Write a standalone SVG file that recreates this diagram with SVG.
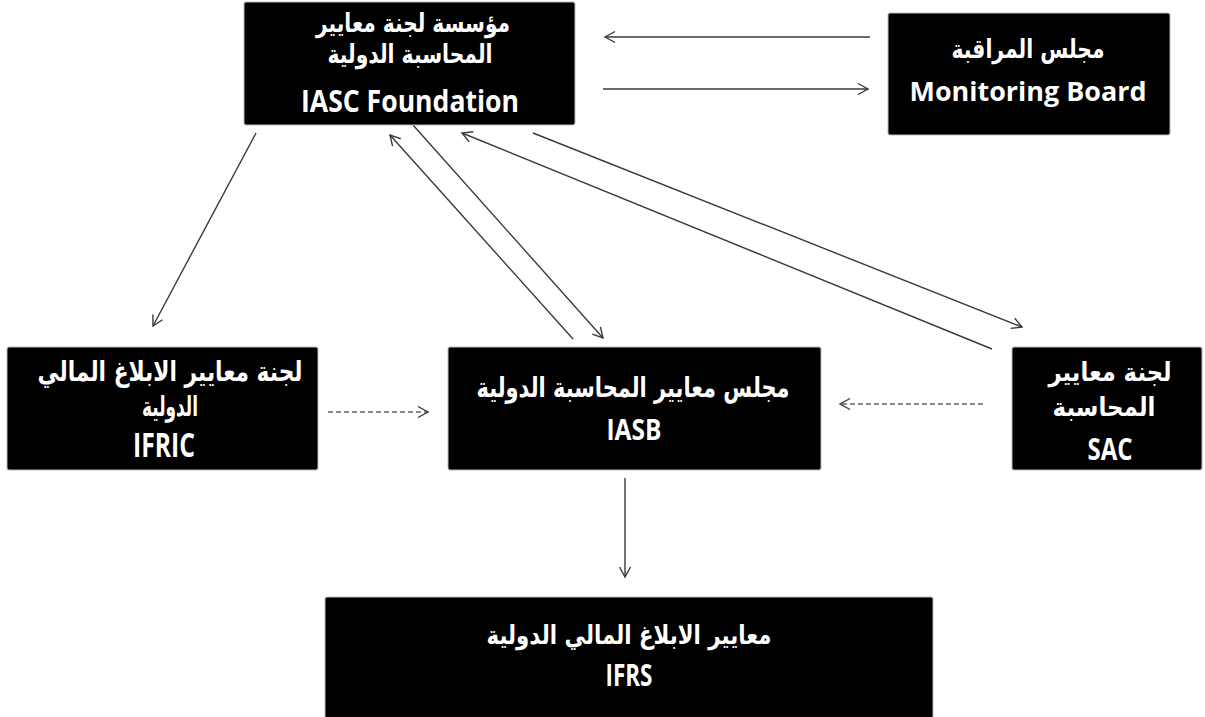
<svg xmlns="http://www.w3.org/2000/svg" width="1205" height="717" viewBox="0 0 1205 717">
<style>
.box{fill:#000;stroke:#bbb;stroke-width:1}
.ar{font-family:"DejaVu Sans",sans-serif;font-weight:bold;fill:#fff;text-anchor:middle}
.en{font-family:"Open Sans","Liberation Sans",sans-serif;font-weight:bold;fill:#fff;text-anchor:middle}
.ln{stroke:#3a3a3a;stroke-width:1.4;fill:none;marker-end:url(#ah)}
.dash{stroke-dasharray:5 3;stroke:#666}
</style>
<defs>
<marker id="ah" markerUnits="userSpaceOnUse" markerWidth="14" markerHeight="14" refX="11" refY="7" orient="auto">
<path d="M1,1.5 L11,7 L1,12.5" fill="none" stroke="#3a3a3a" stroke-width="1.4"/>
</marker>
</defs>
<rect width="1205" height="717" fill="#fff"/>
<g id="connectors">
<line class="ln" x1="870" y1="37" x2="605" y2="37"/>
<line class="ln" x1="603" y1="89" x2="868" y2="89"/>
<line class="ln" x1="256" y1="133" x2="153" y2="326"/>
<line class="ln" x1="573" y1="339" x2="390" y2="135"/>
<line class="ln" x1="413" y1="125" x2="603" y2="338"/>
<line class="ln" x1="992" y1="349" x2="462" y2="133"/>
<line class="ln" x1="533" y1="133" x2="1022" y2="327"/>
<line class="ln dash" x1="328" y1="412" x2="428" y2="412"/>
<line class="ln dash" x1="983" y1="404" x2="840" y2="404"/>
<line class="ln" x1="625" y1="478" x2="625" y2="577"/>
</g>
<g id="iasc">
<rect class="box" x="244" y="2" width="331" height="123" rx="2"/>
<text class="ar" x="413" y="32" font-size="26" textLength="194" lengthAdjust="spacingAndGlyphs">مؤسسة لجنة معايير</text>
<text class="ar" x="410" y="63" font-size="26" textLength="165" lengthAdjust="spacingAndGlyphs">المحاسبة الدولية</text>
<text class="en" x="410" y="112" font-size="31" textLength="218" lengthAdjust="spacingAndGlyphs">IASC Foundation</text>
</g>
<g id="monitoring">
<rect class="box" x="888" y="13" width="282" height="122" rx="2"/>
<text class="ar" x="1028" y="58" font-size="26" textLength="153" lengthAdjust="spacingAndGlyphs">مجلس المراقبة</text>
<text class="en" x="1028" y="101" font-size="27" textLength="237" lengthAdjust="spacingAndGlyphs">Monitoring Board</text>
</g>
<g id="ifric">
<rect class="box" x="7" y="347" width="311" height="123" rx="2"/>
<text class="ar" x="170" y="381" font-size="28" textLength="265" lengthAdjust="spacingAndGlyphs">لجنة معايير الابلاغ المالي</text>
<text class="ar" x="170" y="416" font-size="28" textLength="56" lengthAdjust="spacingAndGlyphs">الدولية</text>
<text class="en" x="164" y="457" font-size="34" textLength="62" lengthAdjust="spacingAndGlyphs">IFRIC</text>
</g>
<g id="iasb">
<rect class="box" x="448" y="347" width="373" height="123" rx="2"/>
<text class="ar" x="633" y="397" font-size="28" textLength="313" lengthAdjust="spacingAndGlyphs">مجلس معايير المحاسبة الدولية</text>
<text class="en" x="634" y="440" font-size="28" textLength="55" lengthAdjust="spacingAndGlyphs">IASB</text>
</g>
<g id="sac">
<rect class="box" x="1012" y="347" width="190" height="123" rx="2"/>
<text class="ar" x="1110" y="381" font-size="26" textLength="123" lengthAdjust="spacingAndGlyphs">لجنة معايير</text>
<text class="ar" x="1104" y="416" font-size="26" textLength="103" lengthAdjust="spacingAndGlyphs">المحاسبة</text>
<text class="en" x="1110" y="460" font-size="30" textLength="45" lengthAdjust="spacingAndGlyphs">SAC</text>
</g>
<g id="ifrs">
<rect class="box" x="325" y="597" width="608" height="122" rx="2"/>
<text class="ar" x="629" y="644" font-size="26" textLength="285" lengthAdjust="spacingAndGlyphs">معايير الابلاغ المالي الدولية</text>
<text class="en" x="629" y="686" font-size="30" textLength="47" lengthAdjust="spacingAndGlyphs">IFRS</text>
</g>
</svg>
